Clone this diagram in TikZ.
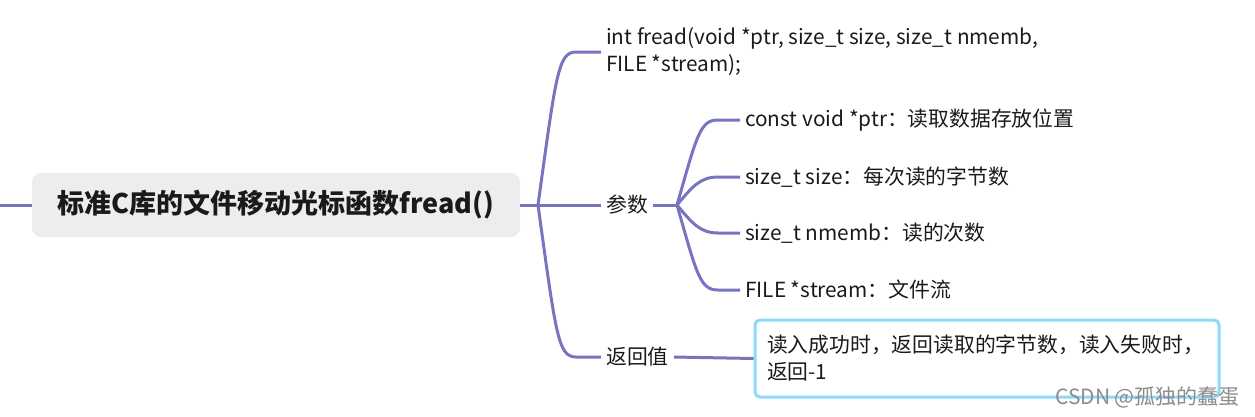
\documentclass[tikz,border=0pt]{standalone}
\usepackage{fontspec}
\setmainfont{Noto Sans CJK SC}
\definecolor{linec}{HTML}{7875C0}
\definecolor{boxgray}{HTML}{EDEDED}
\definecolor{cyanb}{HTML}{8ED9FA}
\definecolor{txt}{HTML}{1A1A1A}
\begin{document}
\begin{tikzpicture}[x=1pt,y=-1pt,
  conn/.style={draw=linec, line width=3pt},
  lbl/.style={anchor=west, inner sep=5pt, align=left, text=txt, font=\fontsize{20.8}{27}\selectfont},
  titlebox/.style={fill=boxgray, rounded corners=9pt, minimum width=488pt, minimum height=64pt, inner sep=0pt, text=txt, font=\fontsize{27}{30}\selectfont\bfseries},
  retbox/.style={draw=cyanb, line width=3pt, rounded corners=5pt, fill=white, text width=440pt, inner xsep=12pt, minimum height=77pt, align=left, text=txt, font=\fontsize{20.8}{27}\selectfont},
  wm/.style={anchor=east, inner sep=0pt, text=black!45, font=\fontsize{21}{23}\selectfont}]
\useasboundingbox (0,0) rectangle (1255,416);
\coordinate (lin) at (0,205);
\coordinate (j0) at (538,205);
\coordinate (j2) at (677,205);
\node[titlebox] (root) at (276,205) {标准C库的文件移动光标函数fread()};
\node[lbl] (proto) at (601,52) {int fread(void *ptr, size\_t size, size\_t nmemb,\\FILE *stream);};
\node[lbl] (param) at (601,205) {参数};
\node[lbl] (ret) at (601,357) {返回值};
\node[lbl] (p1) at (740,120) {const void *ptr：读取数据存放位置};
\node[lbl] (p2) at (740,177) {size\_t size：每次读的字节数};
\node[lbl] (p3) at (740,233) {size\_t nmemb：读的次数};
\node[lbl] (p4) at (740,290) {FILE *stream：文件流};
\node[retbox] (rv) at (987,358.5) {读入成功时，返回读取的字节数，读入失败时，\\返回-1};
\node[wm] (wm) at (1240,397) {CSDN @孤独的蠢蛋};
\draw[conn] (lin) -- (root.west);
\draw[conn] (root.east) -- (j0);
\draw[conn] (j0) .. controls (556,75) and (558,52) .. (576,52) -- (proto.west);
\draw[conn] (j0) -- (param.west);
\draw[conn] (j0) .. controls (556,335) and (558,357) .. (576,357) -- (ret.west);
\draw[conn] (param.east) -- (j2);
\draw[conn] (j2) .. controls (697,135) and (700,120) .. (718,120) -- (p1.west);
\draw[conn] (j2) .. controls (692,187) and (700,177) .. (718,177) -- (p2.west);
\draw[conn] (j2) .. controls (692,223) and (700,233) .. (718,233) -- (p3.west);
\draw[conn] (j2) .. controls (697,275) and (700,290) .. (718,290) -- (p4.west);
\draw[conn] (ret.east) -- (rv.west);
\end{tikzpicture}
\end{document}
